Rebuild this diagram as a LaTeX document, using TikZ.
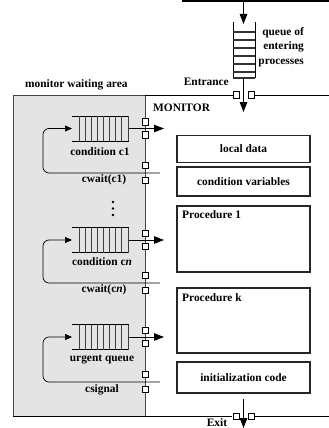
\documentclass[tikz,border=0pt]{standalone}
\usepackage{fontspec}
\setmainfont{Liberation Serif}
\usetikzlibrary{arrows.meta}
\definecolor{waitgray}{RGB}{228,228,228}
\definecolor{edgegray}{RGB}{70,70,70}
\begin{document}
\begin{tikzpicture}[x=1pt,y=-1pt,
  lbl/.style={font=\fontsize{11.4}{14}\selectfont\bfseries, inner sep=0pt},
  sq/.style={draw=black, fill=white, line width=0.7pt, minimum width=6pt, minimum height=6.5pt, inner sep=0pt},
  mbox/.style={draw=black!85, line width=1.6pt, fill=white},
  bigtip/.style={-{Triangle[length=10pt,width=7.5pt]}, line width=0.9pt},
  smalltip/.style={-{Triangle[length=7pt,width=6pt]}, line width=0.7pt},
  loopline/.style={line width=0.7pt, rounded corners=6pt},
  hqueue/.pic={
    \draw[line width=0.8pt] (0,-12.5) -- (57,-12.5) (0,12.5) -- (57,12.5);
    \foreach \vx in {7,13.1,19.2,25.3,31.4,37.5,43.6,49.7,56}
      \draw[line width=0.6pt, black!75] (\vx,-12.5) -- (\vx,12.5);
  }
]
\useasboundingbox (0,0) rectangle (329,428);

% top border fragment
\draw[line width=1.6pt] (182,1) -- (329,1);

% waiting area
\fill[waitgray] (13,95) rectangle (145,416);
\draw[edgegray, line width=1pt] (145,95) -- (13,95) -- (13,416);
\draw[edgegray, line width=0.8pt] (145,95) -- (145,416);

% monitor top line and bottom line
\draw[line width=1pt] (145,95) -- (233,95);
\draw[line width=1pt] (254,95) -- (329,95);
\draw[line width=1.5pt] (13,416.5) -- (232,416.5);
\draw[line width=1.5pt] (255,416.5) -- (329,416.5);

% entering queue
\draw[line width=0.8pt] (233,22) -- (233,78) (255,22) -- (255,78);
\foreach \by in {32,40,48,56,64,72,78}
  \draw[line width=1.5pt, black!80] (233,\by) -- (255,\by);

\coordinate (topin) at (243.5,0);
\coordinate (qtop) at (243.5,24);
\coordinate (qbot) at (243.5,78);
\coordinate (entin) at (243.5,112);
\draw[bigtip] (topin) -- (qtop);
\draw[bigtip] (qbot) -- (entin);
\node[sq] (es1) at (236,95) {};
\node[sq] (es2) at (251,95) {};

\node[lbl, anchor=base east] (q1) at (304,35.5) {queue of};
\node[lbl, anchor=base east] (q2) at (304,50) {entering};
\node[lbl, anchor=base east] (q3) at (304,64.5) {processes};
\node[lbl, anchor=east] (ent) at (229,82) {Entrance};
\node[lbl, anchor=west] (mwa) at (25,85) {monitor waiting area};
\node[lbl, anchor=west] (mon) at (153,108) {MONITOR};

% right boxes
\node[mbox, minimum width=133pt, minimum height=27pt] (ld) at (243.5,149) {};
\node[lbl] at (ld.center) {local data};
\node[mbox, minimum width=133pt, minimum height=29pt] (cv) at (243.5,181.5) {};
\node[lbl] at (cv.center) {condition variables};
\node[mbox, minimum width=133pt, minimum height=66pt] (p1) at (243.5,239) {};
\node[lbl, anchor=north west] (p1t) at (182,210) {Procedure 1};
\node[mbox, minimum width=133pt, minimum height=65pt] (pk) at (243.5,320.5) {};
\node[lbl, anchor=north west] (pkt) at (182,293) {Procedure k};
\node[mbox, minimum width=133pt, minimum height=31pt] (ic) at (243.5,377.5) {};
\node[lbl] at (ic.center) {initialization code};

% queues: a = arrow y, L = loop line y
\foreach \qa/\ql/\nm in {128.5/173/c1, 240/283/cn, 337/382/ur}{
  \pic at (72,\qa) {hqueue};
  \coordinate (\nm out) at (129,\qa);
  \coordinate (\nm tip) at (164,\qa);
  \coordinate (\nm in) at (72,\qa);
  \coordinate (\nm ret) at (160,\ql);
  \draw[bigtip] (\nm out) -- (\nm tip);
  \draw[loopline, smalltip] (\nm ret) -- (43,\ql) -- (43,\qa) -- (\nm in);
  \node[sq] (\nm s1) at (145,\qa-6.5) {};
  \node[sq] (\nm s2) at (145,\qa+6.5) {};
  \node[sq] (\nm s3) at (145,\ql-7.5) {};
  \node[sq] (\nm s4) at (145,\ql+7.5) {};
}

\node[lbl] (lc1) at (100,152) {condition c1};
\node[lbl] (lw1) at (104,179.5) {cwait(c1)};
\node[lbl] (lcn) at (102,262) {condition c\textit{n}};
\node[lbl] (lwn) at (104,290) {cwait(c\textit{n})};
\node[lbl] (lur) at (102,360) {urgent queue};
\node[lbl] (lcs) at (102,390) {csignal};

% dots
\foreach \dy in {202,208.5,215}
  \fill (113,\dy) circle (1.4pt);

% exit
\coordinate (exin) at (243.5,399);
\coordinate (exout) at (243.5,428);
\draw[bigtip] (exin) -- (exout);
\node[sq] (xs1) at (236,416.5) {};
\node[sq] (xs2) at (251,416.5) {};
\node[lbl, anchor=base] (exit) at (217,426.5) {Exit};
\end{tikzpicture}
\end{document}
